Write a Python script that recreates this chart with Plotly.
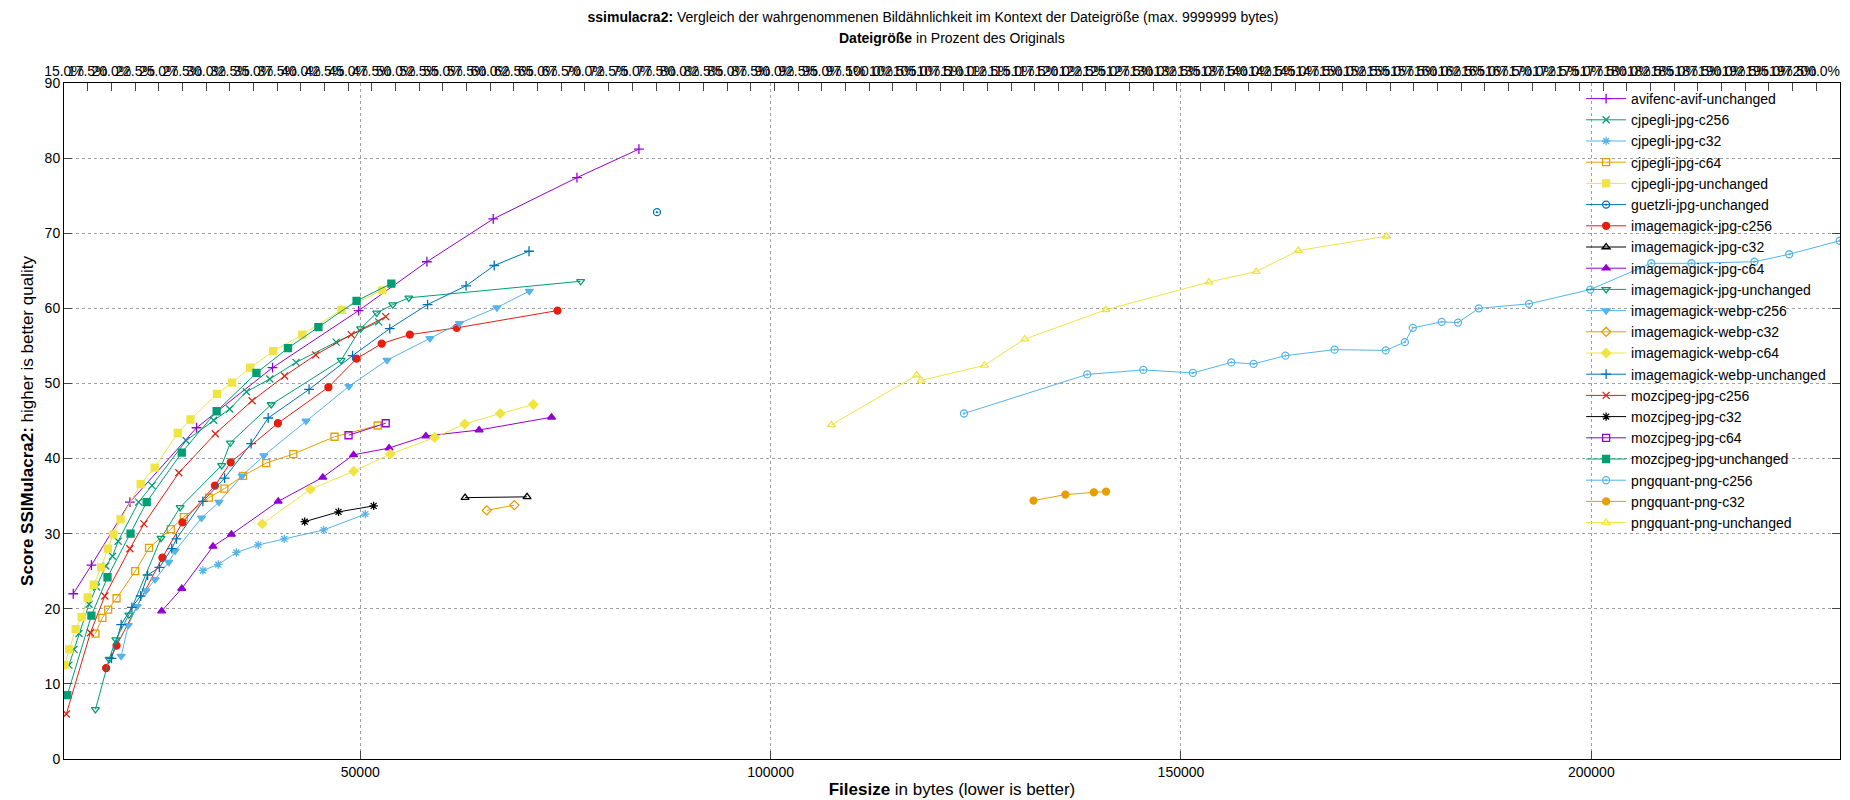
import plotly.graph_objects as go

# Werte (Dateigröße in bytes, Score)
avif_unchanged_x = [15030, 17240, 21930, 30050, 39310, 49800, 58120, 66200, 76400, 83950]
avif_unchanged_y = [22.0, 25.8, 34.2, 44.1, 52.1, 59.7, 66.2, 71.9, 77.4, 81.2]

cjpegli_c256_x = [14500, 15120, 15730, 16950, 17850, 18990, 19810, 20500, 22990, 24620, 28780, 32130, 34090, 36130, 38980, 42170, 47060, 52240]
cjpegli_c256_y = [12.5, 14.6, 16.7, 20.6, 22.9, 25.7, 27.0, 29.0, 34.2, 36.4, 42.4, 45.1, 46.6, 48.9, 50.6, 52.8, 55.5, 58.2]

cjpegli_c32_x = [30820, 32700, 34900, 37560, 40740, 45550, 50610]
cjpegli_c32_y = [25.1, 25.9, 27.5, 28.5, 29.3, 30.5, 32.6]

cjpegli_c64_x = [17730, 18580, 19280, 20300, 22580, 24260, 26910, 28500, 31560, 33440, 35720, 38540, 41840, 46860, 52120]
cjpegli_c64_y = [16.7, 18.8, 19.9, 21.4, 25.0, 28.1, 30.6, 32.2, 34.8, 36.0, 37.7, 39.4, 40.6, 42.9, 44.4]

cjpegli_unchanged_x = [13970, 14540, 15320, 16050, 16790, 17520, 18420, 19240, 19930, 20790, 23240, 24950, 27760, 29310, 32540, 34370, 36580, 39390, 42940, 47720, 52690]
cjpegli_unchanged_y = [12.5, 14.6, 17.3, 18.9, 21.5, 23.2, 25.5, 28.0, 29.9, 31.9, 36.6, 38.8, 43.4, 45.2, 48.6, 50.1, 52.1, 54.3, 56.5, 59.8, 62.4]

guetzli_unchanged_x = [86150]
guetzli_unchanged_y = [72.8]

magick_jpg_c256_x = [19030, 20300, 25890, 28330, 32290, 34210, 39960, 46120, 49550, 52610, 56040, 61750, 74030]
magick_jpg_c256_y = [12.1, 15.1, 26.8, 31.5, 36.4, 39.5, 44.7, 49.5, 53.3, 55.3, 56.5, 57.4, 59.7]

magick_jpg_c32_x = [62770, 70320]
magick_jpg_c32_y = [34.8, 34.9]

magick_jpg_c64_x = [25800, 28250, 32050, 34290, 40000, 45430, 49180, 53510, 57990, 64480, 73300]
magick_jpg_c64_y = [19.7, 22.7, 28.3, 29.9, 34.3, 37.5, 40.5, 41.4, 43.0, 43.8, 45.5]

magick_jpg_unchanged_x = [17730, 19400, 20220, 21810, 25720, 28050, 33110, 34170, 39150, 47670, 50040, 52000, 53960, 55920, 76850]
magick_jpg_unchanged_y = [6.6, 13.3, 15.9, 19.2, 29.4, 33.5, 39.1, 42.1, 47.2, 53.1, 57.3, 59.4, 60.5, 61.4, 63.6]

magick_webp_c256_x = [20870, 21730, 22780, 23890, 24990, 26660, 27440, 30660, 32780, 35600, 38250, 43390, 48610, 53260, 58490, 62080, 66650, 70600]
magick_webp_c256_y = [13.7, 17.8, 20.3, 22.4, 23.9, 26.2, 27.7, 32.1, 34.2, 37.7, 40.4, 45.0, 49.6, 53.1, 56.0, 58.0, 60.1, 62.3]

magick_webp_c32_x = [65420, 68770]
magick_webp_c32_y = [33.1, 33.8]

magick_webp_c64_x = [38050, 43920, 49180, 53670, 59060, 62730, 67050, 71090]
magick_webp_c64_y = [31.3, 35.9, 38.3, 40.6, 42.8, 44.6, 46.0, 47.2]

magick_webp_unchanged_x = [19690, 20870, 22170, 23240, 24090, 25520, 27030, 27600, 30820, 33470, 36700, 38780, 43760, 49060, 53590, 58200, 62890, 66320, 70560]
magick_webp_unchanged_y = [13.4, 17.9, 20.2, 21.7, 24.5, 25.5, 28.0, 29.3, 34.3, 37.4, 42.0, 45.4, 49.2, 53.7, 57.3, 60.5, 63.0, 65.7, 67.6]

moz_c256_x = [14180, 17120, 18870, 21930, 23640, 27890, 32330, 36820, 40780, 44570, 48900, 53100]
moz_c256_y = [6.0, 16.8, 21.7, 28.0, 31.3, 38.1, 43.3, 47.7, 51.0, 53.8, 56.5, 58.9]

moz_c32_x = [43230, 47350, 51630]
moz_c32_y = [31.6, 32.9, 33.7]

moz_c64_x = [48570, 53100]
moz_c64_y = [43.1, 44.7]

moz_unchanged_x = [14300, 17240, 19200, 22010, 23970, 28250, 32500, 37350, 41190, 44900, 49550, 53790]
moz_unchanged_y = [8.5, 19.1, 24.2, 30.0, 34.2, 40.8, 46.3, 51.4, 54.7, 57.5, 61.0, 63.3]

png_c256_x = [123560, 138580, 145410, 151450, 156130, 158850, 162730, 168720, 174940, 177280, 178250, 181760, 183760, 186290, 192410, 199880, 207300, 212200, 219870, 224110, 230270]
png_c256_y = [46.0, 51.2, 51.8, 51.4, 52.8, 52.6, 53.7, 54.5, 54.4, 55.5, 57.4, 58.2, 58.1, 60.0, 60.6, 62.5, 66.0, 66.0, 66.2, 67.2, 69.0]

png_c32_x = [132030, 135910, 139380, 140870]
png_c32_y = [34.4, 35.2, 35.5, 35.6]

png_unchanged_x = [107410, 117800, 118320, 126040, 130950, 140830, 153420, 159170, 164300, 175030]
png_unchanged_y = [44.5, 51.1, 50.4, 52.4, 55.9, 59.8, 63.5, 64.9, 67.7, 69.6]

pct_ticks = [15 + 2.5 * i for i in range(76)]

series = [
    ("avifenc-avif-unchanged", avif_unchanged_x, avif_unchanged_y),
    ("cjpegli-jpg-c256", cjpegli_c256_x, cjpegli_c256_y),
    ("cjpegli-jpg-c32", cjpegli_c32_x, cjpegli_c32_y),
    ("cjpegli-jpg-c64", cjpegli_c64_x, cjpegli_c64_y),
    ("cjpegli-jpg-unchanged", cjpegli_unchanged_x, cjpegli_unchanged_y),
    ("guetzli-jpg-unchanged", guetzli_unchanged_x, guetzli_unchanged_y),
    ("imagemagick-jpg-c256", magick_jpg_c256_x, magick_jpg_c256_y),
    ("imagemagick-jpg-c32", magick_jpg_c32_x, magick_jpg_c32_y),
    ("imagemagick-jpg-c64", magick_jpg_c64_x, magick_jpg_c64_y),
    ("imagemagick-jpg-unchanged", magick_jpg_unchanged_x, magick_jpg_unchanged_y),
    ("imagemagick-webp-c256", magick_webp_c256_x, magick_webp_c256_y),
    ("imagemagick-webp-c32", magick_webp_c32_x, magick_webp_c32_y),
    ("imagemagick-webp-c64", magick_webp_c64_x, magick_webp_c64_y),
    ("imagemagick-webp-unchanged", magick_webp_unchanged_x, magick_webp_unchanged_y),
    ("mozcjpeg-jpg-c256", moz_c256_x, moz_c256_y),
    ("mozcjpeg-jpg-c32", moz_c32_x, moz_c32_y),
    ("mozcjpeg-jpg-c64", moz_c64_x, moz_c64_y),
    ("mozcjpeg-jpg-unchanged", moz_unchanged_x, moz_unchanged_y),
    ("pngquant-png-c256", png_c256_x, png_c256_y),
    ("pngquant-png-c32", png_c32_x, png_c32_y),
    ("pngquant-png-unchanged", png_unchanged_x, png_unchanged_y),
]

# gnuplot Standardfarben und Punkttypen
colors = ['#9400d3', '#009e73', '#56b4e9', '#e69f00', '#f0e442', '#0072b2', '#e51e10', '#000000']
symbols = ['cross-thin-open', 'x-thin-open', 'asterisk-open', 'square-open', 'square', 'circle-open-dot',
           'circle', 'triangle-up-open', 'triangle-up', 'triangle-down-open', 'triangle-down', 'diamond-open',
           'diamond', 'cross-thin-open', 'x-thin-open', 'asterisk-open', 'square-open', 'square',
           'circle-open-dot', 'circle', 'triangle-up-open']

fig = go.Figure()
for i, (name, xs, ys) in enumerate(series):
    c = colors[i % 8]
    fig.add_trace(go.Scatter(
        x=xs, y=ys, mode='lines+markers', name=name,
        line=dict(color=c, width=1),
        marker=dict(symbol=symbols[i], color=c, size=7, line=dict(color=c, width=1.3)),
    ))

# Zweite x-Achse oben (Prozent des Originals)
fig.add_trace(go.Scatter(x=[pct_ticks[0], pct_ticks[-1]], y=[None, None], xaxis='x2',
                         showlegend=False, hoverinfo='skip'))

grid = dict(showgrid=True, gridcolor='#a0a0a0', griddash='dot', gridwidth=1)

fig.update_layout(
    width=1850, height=800,
    paper_bgcolor='white', plot_bgcolor='white',
    font=dict(family='Liberation Sans, Arial', size=14, color='black'),
    margin=dict(l=56, r=18, t=75, b=45),
    title=dict(text='<b>ssimulacra2:</b> Vergleich der wahrgenommenen Bildähnlichkeit im Kontext der Dateigröße (max. 9999999 bytes)',
               x=0.5, xanchor='center', y=0.995, yanchor='top', font=dict(size=14)),
    xaxis=dict(range=[13900, 230300], tick0=0, dtick=50000, tickformat='d', ticks='inside', ticklen=8,
               showline=True, linecolor='black', mirror=False, zeroline=False,
               title=dict(text='<b>Filesize</b> in bytes (lower is better)', standoff=4), **grid),
    xaxis2=dict(overlaying='x', side='top', range=[15, 202.5], tickvals=pct_ticks,
                ticktext=['%.1f%%' % v for v in pct_ticks], tickangle=0, ticks='inside', ticklen=8,
                showgrid=False, showline=True, linecolor='black', zeroline=False),
    yaxis=dict(range=[0, 90], dtick=10, ticks='inside', ticklen=8, showline=True,
               linecolor='black', mirror='ticks', zeroline=False,
               title=dict(text='<b>Score SSIMulacra2:</b> higher is better quality', standoff=6), **grid),
    legend=dict(x=0.995, xanchor='right', y=1.0, yanchor='top', bgcolor='rgba(0,0,0,0)',
                font=dict(size=14), tracegroupgap=0, itemwidth=40),
    annotations=[dict(text='<b>Dateigröße</b> in Prozent des Originals', x=0.5, xref='paper',
                      y=1, yref='paper', yanchor='bottom', yshift=35, showarrow=False,
                      font=dict(size=14))],
    showlegend=True,
)

fig.write_html("out.html")
